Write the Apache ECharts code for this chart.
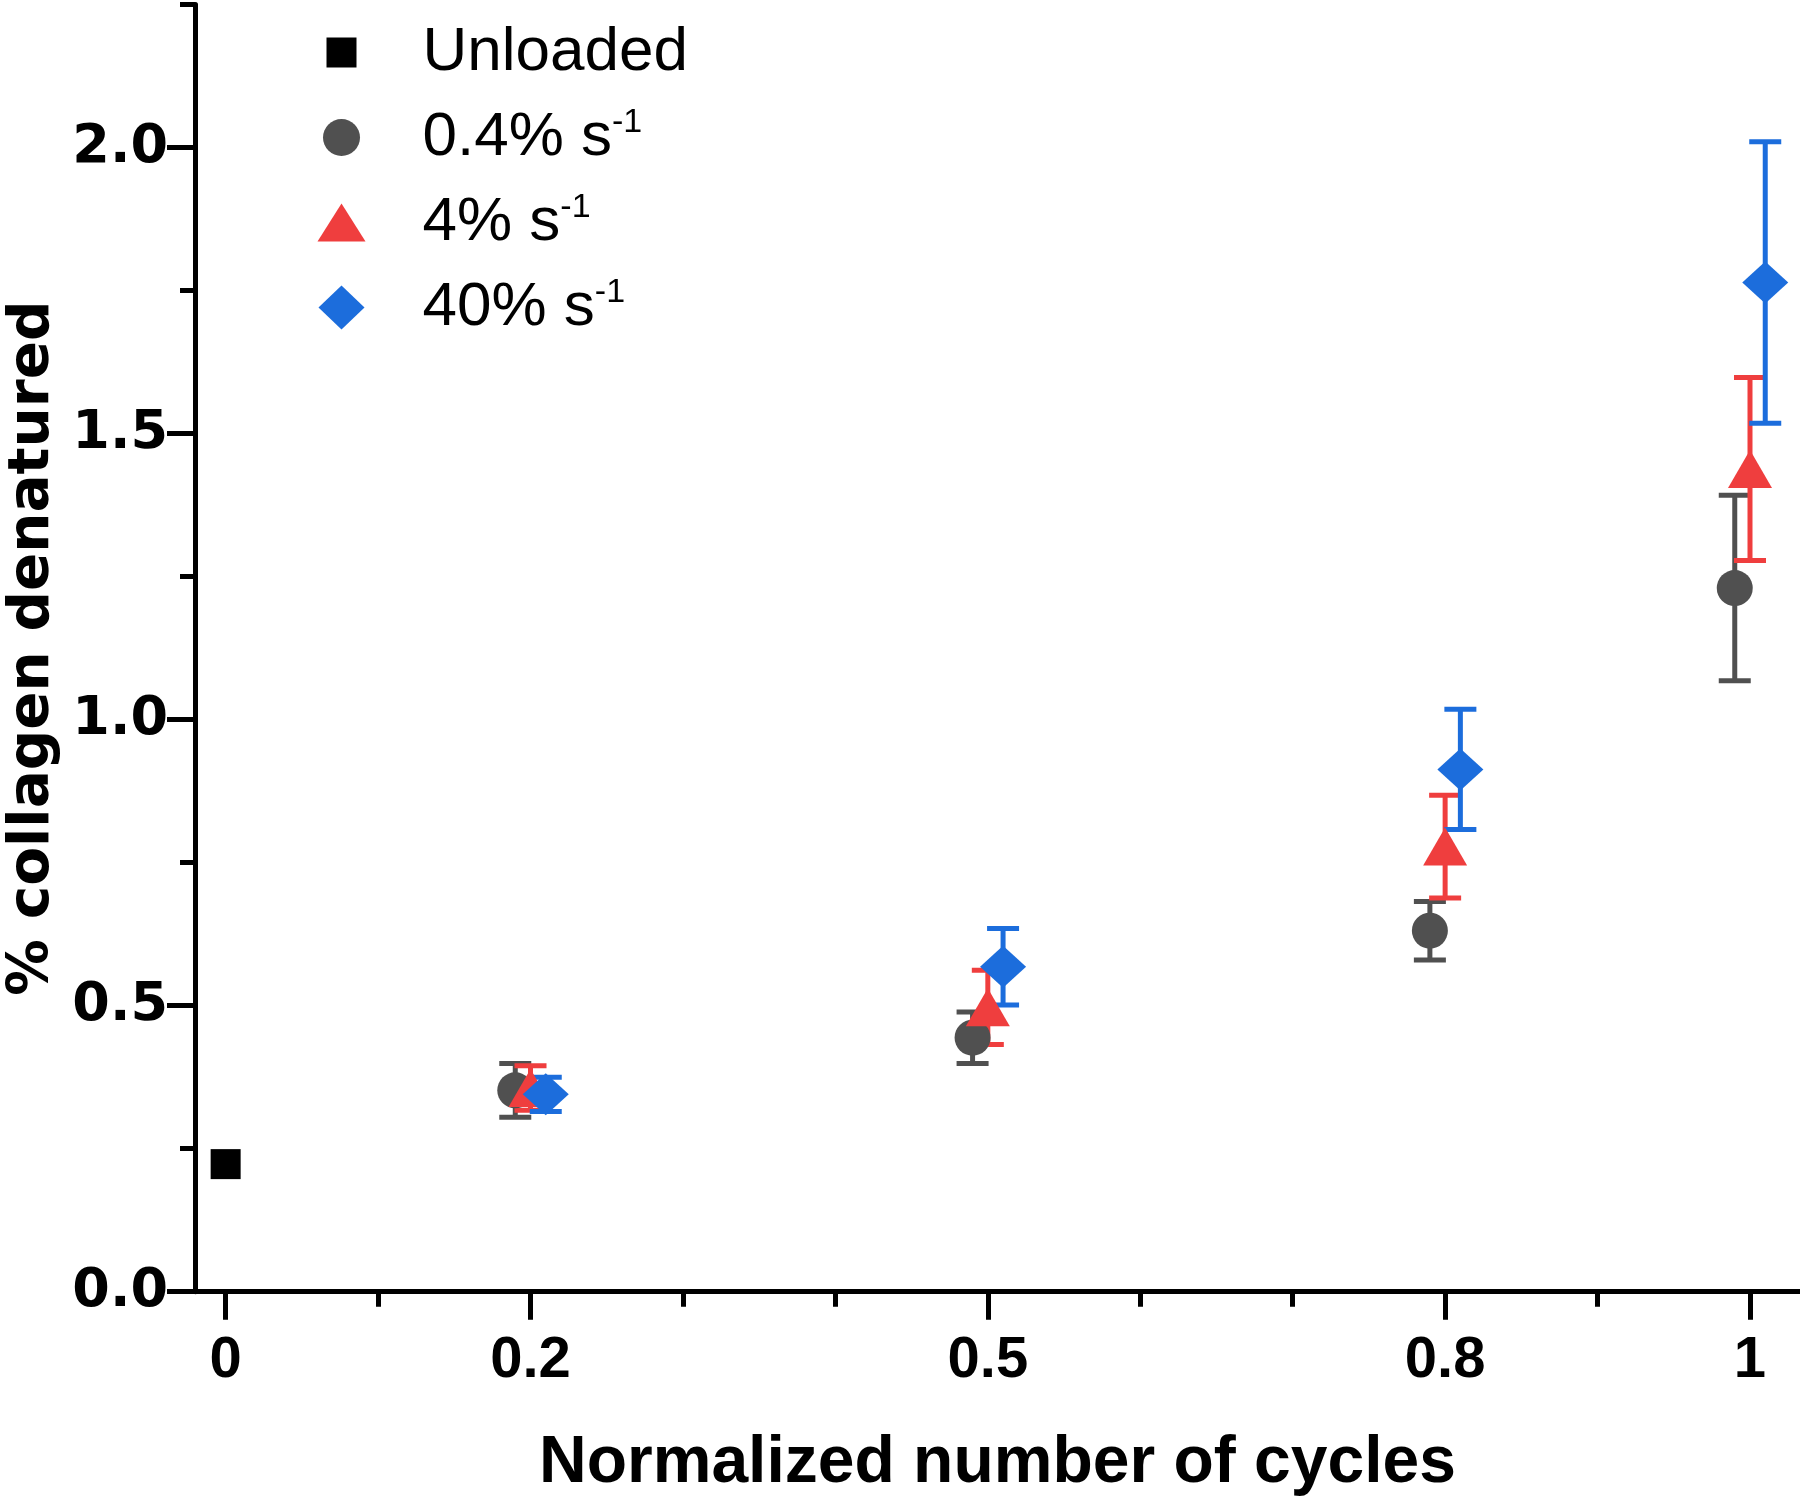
<!DOCTYPE html>
<html><head><meta charset="utf-8">
<script src="https://cdn.jsdelivr.net/npm/echarts@6/dist/echarts.min.js"></script>
<style>html,body{margin:0;padding:0;background:#fff}#chart{width:1800px;height:1499px}</style>
</head><body><div id="chart"></div>
<script>
// ---- data ----
const seriesNames = ['Unloaded', '0.4% s-1', '4% s-1', '40% s-1'];
const legendLabels = ['Unloaded', '0.4% s{sup|-1}', '4% s{sup|-1}', '40% s{sup|-1}'];
const unloadedX = [0];
const unloadedY = [0.223];
const slowX = [0.19, 0.49, 0.79, 0.99];
const slowY = [0.352, 0.444, 0.631, 1.230];
const slowErr = [0.047, 0.045, 0.051, 0.162];
const midX = [0.20, 0.50, 0.80, 1.00];
const midY = [0.356, 0.497, 0.778, 1.438];
const midErr = [0.039, 0.065, 0.090, 0.160];
const fastX = [0.21, 0.51, 0.81, 1.01];
const fastY = [0.345, 0.568, 0.913, 1.764];
const fastErr = [0.030, 0.067, 0.105, 0.246];
const xTickLabels = [0, 0.2, 0.5, 0.8, 1];
const xMinorTicks = [0.1, 0.3, 0.4, 0.6, 0.7, 0.9];
const yTickLabels = [0, 0.5, 1.0, 1.5, 2.0];
const yMinorTicks = [0.25, 0.75, 1.25, 1.75, 2.25];
const xTitle = 'Normalized number of cycles';
const yTitle = '% collagen denatured';

// ---- styles ----
const colors = ['#000000', '#505050', '#EF3E3E', '#1C6DDC'];
const X_MIN = -0.0201, X_MAX = 1.0328, Y_MIN = 0, Y_MAX = 2.25;

function pts(xs, ys) { return xs.map((x, i) => [x, ys[i]]); }
function errs(xs, ys, es) { return xs.map((x, i) => [x, ys[i] - es[i], ys[i] + es[i]]); }

function errRender(color) {
  return function (params, api) {
    const x = api.value(0), lo = api.value(1), hi = api.value(2);
    const p1 = api.coord([x, hi]), p2 = api.coord([x, lo]);
    const hw = 16;
    const st = { stroke: color, lineWidth: 5 };
    return {
      type: 'group', children: [
        { type: 'line', shape: { x1: p1[0], y1: p1[1], x2: p2[0], y2: p2[1] }, style: st },
        { type: 'line', shape: { x1: p1[0] - hw, y1: p1[1], x2: p1[0] + hw, y2: p1[1] }, style: st },
        { type: 'line', shape: { x1: p2[0] - hw, y1: p2[1], x2: p2[0] + hw, y2: p2[1] }, style: st }
      ]
    };
  };
}

// legend icons: 100x46 box, shape centred at (24,23), blank space to the right
const B = 'M0,0 M100,46 ';
const icons = [
  'path://' + B + 'M9,8 L39,8 L39,38 L9,38 Z',
  'path://' + B + 'M5.5,23 A18.5,18.5 0 1,1 42.5,23 A18.5,18.5 0 1,1 5.5,23 Z',
  'path://' + B + 'M24,4 L48,42 L0,42 Z',
  'path://' + B + 'M24,1 L47,23 L24,45 L1,23 Z'
];

const option = {
  animation: false,
  backgroundColor: '#fff',
  grid: { left: 195, right: 0, top: 4.5, bottom: 207.3, containLabel: false, outerBoundsMode: 'none' },
  legend: {
    orient: 'vertical', left: 312.5, top: 15.5,
    itemWidth: 100, itemHeight: 46, itemGap: 21,
    data: seriesNames.map((n, i) => ({ name: n, icon: icons[i] })),
    formatter: n => legendLabels[seriesNames.indexOf(n)],
    textStyle: {
      fontFamily: 'Liberation Sans', fontSize: 62, color: '#000', lineHeight: 64,
      rich: { sup: { fontFamily: 'Liberation Sans', fontSize: 34, color: '#000', verticalAlign: 'top', lineHeight: 34 } }
    }
  },
  xAxis: [
    {
      type: 'value', min: X_MIN, max: X_MAX, position: 'bottom',
      axisLine: { onZero: false, lineStyle: { color: '#000', width: 5 } },
      axisTick: { show: true, customValues: xTickLabels, length: 28, lineStyle: { color: '#000', width: 5 } },
      axisLabel: {
        customValues: xTickLabels, margin: 40, color: '#000',
        fontFamily: 'Liberation Sans', fontWeight: 'bold', fontSize: 58,
        formatter: v => String(v)
      },
      splitLine: { show: false },
      name: xTitle, nameLocation: 'middle', nameGap: 139,
      nameTextStyle: { fontFamily: 'Liberation Sans', fontWeight: 'bold', fontSize: 66, color: '#000' }
    },
    {
      type: 'value', min: X_MIN, max: X_MAX, position: 'bottom',
      axisLine: { show: false, onZero: false },
      axisTick: { show: true, customValues: xMinorTicks, length: 15, lineStyle: { color: '#000', width: 5 } },
      axisLabel: { show: false },
      splitLine: { show: false }
    }
  ],
  yAxis: [
    {
      type: 'value', min: Y_MIN, max: Y_MAX, position: 'left',
      axisLine: { onZero: false, lineStyle: { color: '#000', width: 5 } },
      axisTick: { show: true, customValues: yTickLabels, length: 28, lineStyle: { color: '#000', width: 5 } },
      axisLabel: {
        customValues: yTickLabels, margin: 27, color: '#000',
        fontFamily: 'DejaVu Sans', fontWeight: 'bold', fontSize: 54,
        formatter: v => Number(v).toFixed(1)
      },
      splitLine: { show: false },
      name: yTitle, nameLocation: 'middle', nameGap: 130, nameRotate: 90,
      nameTextStyle: { fontFamily: 'DejaVu Sans', fontWeight: 'bold', fontSize: 56.5, color: '#000' }
    },
    {
      type: 'value', min: Y_MIN, max: Y_MAX, position: 'left',
      axisLine: { show: false, onZero: false },
      axisTick: { show: true, customValues: yMinorTicks, length: 15, lineStyle: { color: '#000', width: 5 } },
      axisLabel: { show: false },
      splitLine: { show: false }
    }
  ],
  series: [
    { type: 'custom', name: 'err-slow', renderItem: errRender(colors[1]), data: errs(slowX, slowY, slowErr), encode: { x: 0, y: [1, 2] }, xAxisIndex: 0, yAxisIndex: 0, silent: true },
    { type: 'scatter', name: seriesNames[1], data: pts(slowX, slowY), symbol: 'circle', symbolSize: 36, itemStyle: { color: colors[1], opacity: 1 }, xAxisIndex: 0, yAxisIndex: 0 },
    { type: 'custom', name: 'err-mid', renderItem: errRender(colors[2]), data: errs(midX, midY, midErr), encode: { x: 0, y: [1, 2] }, xAxisIndex: 0, yAxisIndex: 0, silent: true },
    { type: 'scatter', name: seriesNames[2], data: pts(midX, midY), symbol: 'triangle', symbolSize: [44, 38], itemStyle: { color: colors[2], opacity: 1 }, xAxisIndex: 0, yAxisIndex: 0 },
    { type: 'custom', name: 'err-fast', renderItem: errRender(colors[3]), data: errs(fastX, fastY, fastErr), encode: { x: 0, y: [1, 2] }, xAxisIndex: 0, yAxisIndex: 0, silent: true },
    { type: 'scatter', name: seriesNames[3], data: pts(fastX, fastY), symbol: 'diamond', symbolSize: [46, 42], itemStyle: { color: colors[3], opacity: 1 }, xAxisIndex: 0, yAxisIndex: 0 },
    { type: 'scatter', name: seriesNames[0], data: pts(unloadedX, unloadedY), symbol: 'rect', symbolSize: 30, itemStyle: { color: colors[0], opacity: 1 }, xAxisIndex: 0, yAxisIndex: 0 }
  ]
};

const chart = echarts.init(document.getElementById('chart'), null, { renderer: 'canvas' });
chart.setOption(option);
</script>
</body></html>
